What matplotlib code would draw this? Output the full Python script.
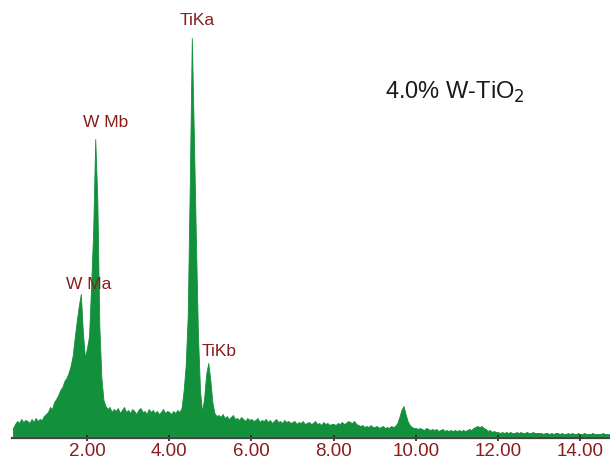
import numpy as np
import matplotlib.pyplot as plt

plt.rcParams['font.family'] = ['Liberation Sans', 'DejaVu Sans']

# --- EDS spectrum: channel energies (keV) and counts ---
energy = np.round(np.arange(0.20, 14.70 + 0.001, 0.05), 2)
counts = [
    # 0.20 - 0.95
    8, 12, 15, 13, 17, 14, 16, 15, 13, 17, 14, 18, 15, 17, 16, 20,
    # 1.00 - 1.95
    22, 24, 29, 27, 34, 37, 41, 46, 49, 55, 58, 63, 70, 80, 98, 115, 130, 142, 103, 78,
    # 2.00 - 2.95
    88, 100, 150, 205, 297, 238, 110, 58, 36, 30, 27, 29, 24, 27, 25, 28, 23, 26, 29, 24,
    # 3.00 - 3.95
    26, 23, 27, 25, 22, 26, 28, 24, 25, 22, 27, 24, 26, 23, 25, 22, 24, 27, 23, 25,
    # 4.00 - 4.95
    24, 22, 25, 23, 26, 24, 28, 45, 70, 120, 250, 398, 300, 195, 100, 45, 24, 38, 62, 73,
    # 5.00 - 5.95
    56, 34, 23, 20, 21, 19, 22, 18, 20, 17, 19, 21, 17, 18, 16, 19, 17, 15, 18, 16,
    # 6.00 - 6.95
    17, 15, 16, 18, 14, 16, 15, 17, 14, 16, 13, 15, 17, 14, 15, 13, 16, 14, 15, 13,
    # 7.00 - 7.95
    14, 15, 12, 14, 13, 15, 12, 13, 14, 12, 13, 15, 12, 13, 11, 14, 12, 13, 11, 12,
    # 8.00 - 8.95
    12, 11, 13, 12, 14, 12, 13, 15, 14, 13, 15, 12, 11, 10, 11, 9, 10, 9, 11, 9,
    # 9.00 - 9.95
    9, 10, 8, 9, 10, 8, 9, 8, 10, 9, 10, 13, 19, 26, 30, 22, 15, 11, 9, 8,
    # 10.00 - 10.95
    8, 7, 8, 7, 6, 8, 7, 6, 7, 6, 7, 5, 6, 7, 5, 6, 5, 6, 5, 6,
    # 11.00 - 11.95
    5, 6, 5, 6, 5, 6, 7, 6, 8, 9, 10, 9, 10, 8, 7, 5, 6, 4, 5, 4,
    # 12.00 - 12.95
    4, 3, 4, 3, 4, 3, 4, 3, 3, 4, 3, 4, 3, 3, 4, 3, 3, 4, 3, 3,
    # 13.00 - 13.95
    3, 3, 2, 3, 3, 2, 3, 2, 3, 3, 2, 3, 2, 2, 3, 2, 3, 2, 2, 3,
    # 14.00 - 14.70
    2, 2, 3, 2, 2, 2, 3, 2, 2, 2, 2, 3, 2, 2, 2,
]

# peak labels: text, x position (keV), baseline height (counts)
peak_names = ['W Ma', 'W Mb', 'TiKa', 'TiKb']
peak_x = [2.05, 2.46, 4.68, 5.21]
peak_y = [147, 309, 411, 80]

tick_pos = [2, 4, 6, 8, 10, 12, 14]
sample_label = '4.0% W-TiO$_2$'

green = '#13903c'
dark_red = '#8b1c1c'

fig = plt.figure(figsize=(6.10, 4.59), dpi=100)
ax = fig.add_axes([12 / 610, 21 / 459, 598 / 610, 438 / 459])

ax.fill_between(energy, 0, counts, color=green, linewidth=0.6, edgecolor=green)

for name, px, py in zip(peak_names, peak_x, peak_y):
    ax.text(px, py, name, color=dark_red, fontsize=12.5, ha='center', va='baseline')

ax.text(0.741, 0.79, sample_label, transform=ax.transAxes, fontsize=17,
        color='#1a1a1a', ha='center', va='center')

ax.set_xlim(0.175, 14.725)
ax.set_ylim(-2, 436)

for side in ['top', 'right', 'left']:
    ax.spines[side].set_visible(False)
ax.spines['bottom'].set_color('#444444')
ax.spines['bottom'].set_linewidth(1.6)

ax.set_yticks([])
ax.set_xticks(tick_pos)
ax.set_xticklabels(['%.2f' % t for t in tick_pos])
ax.tick_params(axis='x', direction='inout', length=5, width=1.2, color='#222222',
               labelcolor=dark_red, labelsize=13.5, pad=1)

fig.savefig('out.png', dpi=100)
